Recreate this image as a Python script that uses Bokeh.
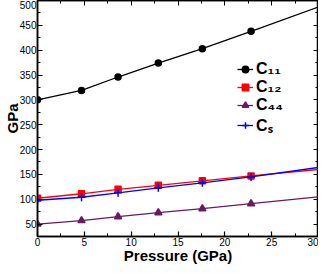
from bokeh.plotting import figure
from bokeh.models import (Legend, LegendItem, LinearAxis, Range1d, FixedTicker,
                          CustomLabelingPolicy)
from bokeh.embed import file_html
from bokeh.resources import INLINE

# Pressure points (GPa) with computed values; lines extend to 30 GPa
pressure = [0, 4.7, 8.6, 12.9, 17.6, 22.8]
pressure_line = [0, 4.7, 8.6, 12.9, 17.6, 22.8, 30]
c11 = [300, 319, 346, 374, 403, 438]
c12 = [102, 111, 120, 128, 137, 147]
c44 = [50, 57, 65, 73, 81, 91]
cs = [98, 104, 113, 123, 133, 145]
c11_end = 487
c12_end = 160
c44_end = 105
cs_end = 164

x_ticks = [0, 5, 10, 15, 20, 25, 30]
x_minor = [2.5, 7.5, 12.5, 17.5, 22.5, 27.5]
y_ticks = [50, 100, 150, 200, 250, 300, 350, 400, 450, 500]
y_minor = [75, 125, 175, 225, 275, 325, 375, 425, 475]

labels = ["C\u2081\u2081", "C\u2081\u2082", "C\u2084\u2084", "C\u209b"]
colors = ["#000000", "#ff0000", "#6b1a5e", "#0000ff"]

p = figure(width=318, height=266, output_backend="svg", toolbar_location=None,
           x_range=Range1d(0, 30), y_range=Range1d(25, 500),
           min_border_left=0, min_border_right=0, min_border_top=0, min_border_bottom=0)
p.xgrid.visible = False
p.ygrid.visible = False
p.outline_line_color = "black"
p.outline_line_width = 1.5

series = [(c11, c11_end, "circle", 6), (c12, c12_end, "square", 6),
          (c44, c44_end, "triangle", 7), (cs, cs_end, "cross", 8)]
items = []
for (vals, end, marker, size), lab, col in zip(series, labels, colors):
    r1 = p.line(pressure_line, vals + [end], line_color=col, line_width=1.3)
    r2 = p.scatter(pressure, vals, marker=marker, size=size, fill_color=col,
                   line_color=col, line_width=1.5)
    items.append(LegendItem(label=lab, renderers=[r1, r2]))

legend = Legend(items=items, location=(200, 100), background_fill_alpha=0,
                border_line_alpha=0, label_text_font="Liberation Sans",
                label_text_font_size="16px", label_text_font_style="bold",
                label_text_color="black",
                glyph_width=16, glyph_height=16, label_height=16, spacing=0,
                label_standoff=3, padding=0, margin=0)
p.add_layout(legend)

for ax in [p.xaxis[0], p.yaxis[0]]:
    ax.major_tick_in = 5
    ax.major_tick_out = 0
    ax.minor_tick_in = 3
    ax.minor_tick_out = 0
    ax.axis_line_width = 1.5
    ax.major_tick_line_width = 1.2
    ax.major_label_text_font = "Liberation Sans"
    ax.major_label_text_font_size = "10px"
    ax.major_label_text_color = "black"
    ax.axis_label_text_font = "Liberation Sans"
    ax.axis_label_text_font_style = "bold"
    ax.axis_label_text_font_size = "15px"
    ax.axis_label_text_color = "black"

p.xaxis[0].ticker = FixedTicker(ticks=x_ticks, minor_ticks=x_minor)
p.yaxis[0].ticker = FixedTicker(ticks=y_ticks, minor_ticks=y_minor)
p.xaxis[0].axis_label = "Pressure (GPa)"
p.yaxis[0].axis_label = "GPa"
p.xaxis[0].axis_label_standoff = -2
p.yaxis[0].axis_label_standoff = -4
p.xaxis[0].major_label_standoff = 1
p.yaxis[0].major_label_standoff = 1

no_labels = CustomLabelingPolicy(
    code="const a = Array.from(indices); for (const i of a) indices.unset(i); return indices;")

top = LinearAxis(major_tick_in=5, major_tick_out=0, minor_tick_in=3, minor_tick_out=0,
                 axis_line_width=1.5, major_label_standoff=0, axis_label_standoff=0,
                 major_label_policy=no_labels,
                 major_label_overrides={t: "" for t in x_ticks},
                 ticker=FixedTicker(ticks=x_ticks, minor_ticks=x_minor))
right = LinearAxis(major_tick_in=5, major_tick_out=0, minor_tick_in=3, minor_tick_out=0,
                   axis_line_width=1.5, major_label_standoff=0, axis_label_standoff=0,
                   major_label_policy=no_labels,
                   major_label_overrides={t: "" for t in y_ticks},
                   ticker=FixedTicker(ticks=y_ticks, minor_ticks=y_minor))
p.add_layout(top, "above")
p.add_layout(right, "right")

open("out.html", "w").write(file_html(p, INLINE))
